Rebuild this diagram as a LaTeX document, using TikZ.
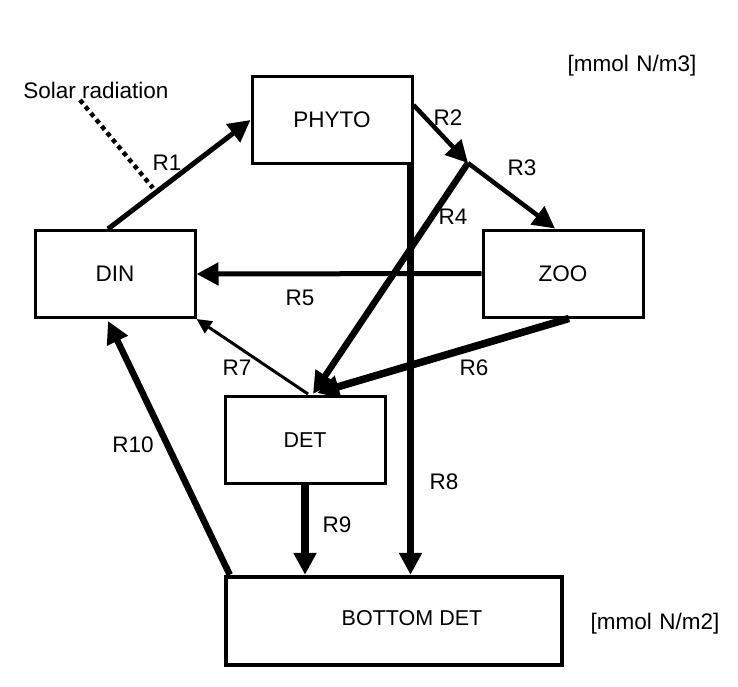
\documentclass[tikz,border=0pt]{standalone}
\usepackage{fontspec}
\setmainfont{Liberation Sans}
\usetikzlibrary{arrows.meta,calc}
\begin{document}
\begin{tikzpicture}[x=1pt,y=-1pt,
  txt/.style={font=\fontsize{22.5}{26}\selectfont, inner sep=0pt},
  boxtxt/.style={font=\fontsize{21.5}{26}\selectfont, inner sep=0pt},
  compbox/.style={draw, line width=3pt, minimum width=160pt, minimum height=87pt, inner sep=0pt, font=\fontsize{22.5}{26}\selectfont},
  flow/.style={line width=#1, -{Triangle[length=22pt,width=22pt]}},
  thinflow/.style={line width=3pt, -{Triangle[length=15pt,width=14pt]}},
  lbl/.style={font=\fontsize{22.5}{26}\selectfont, inner sep=0pt}
]
\useasboundingbox (0,0) rectangle (738,687);
\fill[white] (0,0) rectangle (738,687);

% boxes
\node[compbox] (phyto) at (332,120) {PHYTO};
\node[compbox] (din) at (115,274) {DIN};
\node[compbox] (zoo) at (563,273.5) {ZOO};
\node[compbox, font=\fontsize{21.5}{26}\selectfont] (det) at (305,440) {DET};
\node[draw, line width=4.5pt, minimum width=336pt, minimum height=88pt, inner sep=0pt] (bd) at (394,621) {};
\node[boxtxt] (bdtext) at (412,618) {BOTTOM DET};

% units
\node[txt] (u3) at (632,66) {[mmol\,\,N/m3]};
\node[txt] (u2) at (655,624) {[mmol\,\,N/m2]};

% solar radiation
\node[txt] (solar) at (96,90) {Solar radiation};
\coordinate (sr1) at (80,100);
\coordinate (sr2) at (153,188);
\draw[line width=4.5pt, dash pattern=on 4.5pt off 4pt] (sr1) -- (sr2);

% junction
\coordinate (j) at (468,163);

% flows
\draw[flow=5pt] ($(din.north)+(-7,0)$) -- (phyto.west);
\draw[flow=4.5pt] ($(phyto.east)+(0,-15)$) -- (j);
\draw[flow=4.5pt] (j) -- ($(zoo.north)+(-8,0)$);
\draw[flow=6.5pt] (j) -- ($(det.north)+(8,-1)$);
\draw[flow=5pt] (zoo.west) -- (din.east);
\draw[flow=7.5pt] ($(zoo.south)+(6,0)$) -- ($(det.north)+(12,-2)$);
\draw[thinflow] ($(det.north)+(3,-1)$) -- (din.south east);
\coordinate (r8s) at ($(phyto.south east)+(-3,0)$);
\draw[flow=6.5pt] (r8s) -- (r8s |- bd.north);
\draw[flow=7.5pt] (det.south) -- (det.south |- bd.north);
\draw[flow=6.5pt] ($(bd.north west)+(6,0)$) -- ($(din.south)+(-7,2)$);

% labels
\node[lbl] (l1) at (167,163) {R1};
\node[lbl] (l2) at (448,118) {R2};
\node[lbl] (l3) at (522,168) {R3};
\node[lbl] (l4) at (453,217) {R4};
\node[lbl] (l5) at (300,298) {R5};
\node[lbl] (l6) at (474,368) {R6};
\node[lbl] (l7) at (237,368) {R7};
\node[lbl] (l8) at (444,482) {R8};
\node[lbl] (l9) at (337,525) {R9};
\node[lbl] (l10) at (133,445) {R10};
\end{tikzpicture}
\end{document}
